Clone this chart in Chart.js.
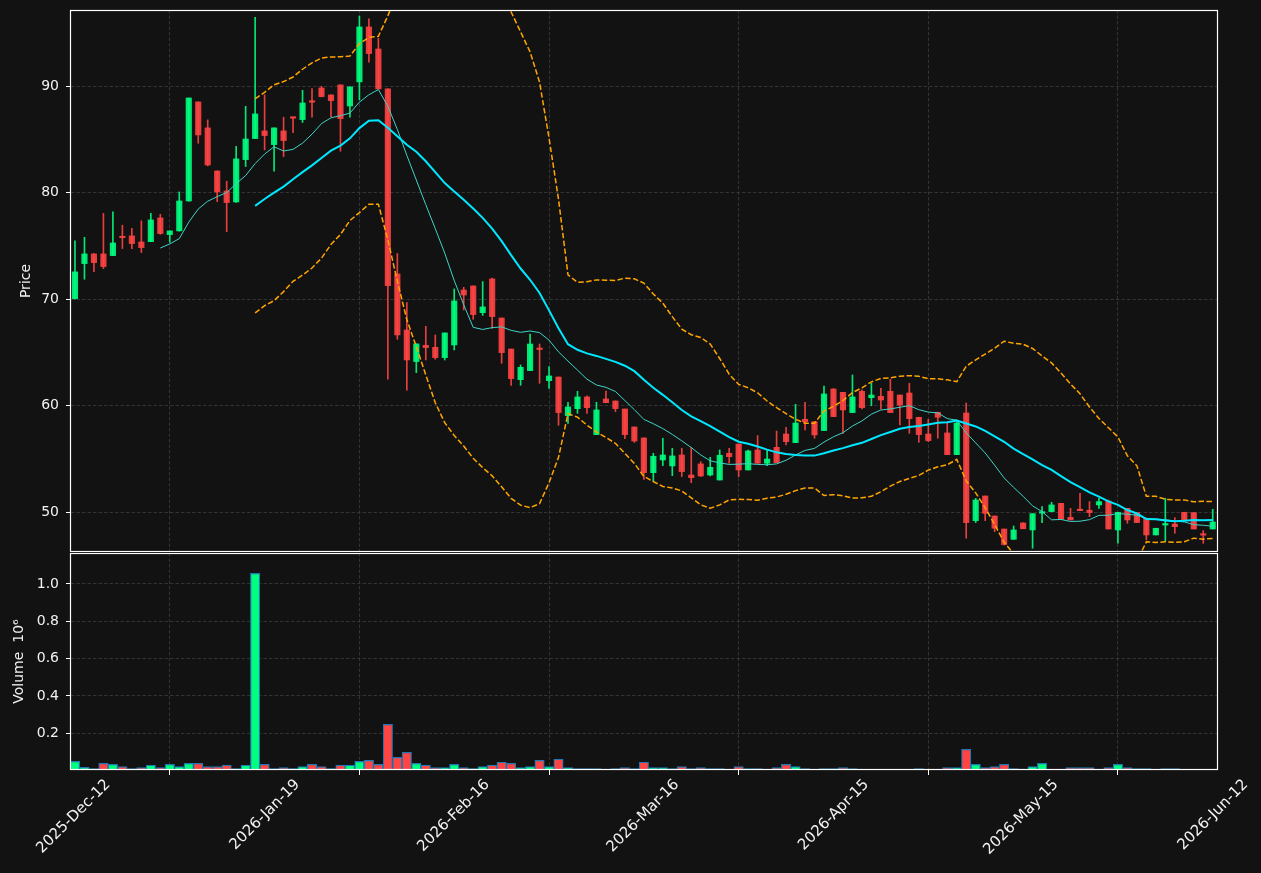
<!DOCTYPE html>
<html>
<head>
<meta charset="utf-8">
<script src="https://cdn.jsdelivr.net/npm/chart.js@4.4.1/dist/chart.umd.min.js"></script>
<style>
  html, body { margin: 0; padding: 0; background: #121212; }
  #wrap { position: relative; width: 1261px; height: 873px; }
  #price { position: absolute; left: 0; top: 0; }
  #volume { position: absolute; left: 0; top: 553px; }
</style>
</head>
<body>
<div id="wrap">
  <canvas id="price" width="1261" height="553"></canvas>
  <canvas id="volume" width="1261" height="320"></canvas>
</div>
<script>
// x positions are trading-day indexes, labelled every 20 sessions
const tickIdx = [0, 20, 40, 60, 80, 100, 120];
const tickLabels = ['2025-Dec-12', '2026-Jan-19', '2026-Feb-16', '2026-Mar-16', '2026-Apr-15', '2026-May-15', '2026-Jun-12'];

const opens = [
  70.06, 73.35, 74.26, 74.26, 74.10, 75.82, 75.95, 75.38, 75.41, 77.64,
  76.07, 76.42, 79.23, 88.53, 86.09, 82.05, 80.17, 79.14, 83.11, 85.09,
  85.81, 84.52, 85.81, 87.09, 86.87, 88.53, 89.84, 89.19, 90.13, 88.15,
  90.41, 95.57, 93.50, 89.75, 72.38, 67.12, 64.15, 65.68, 65.49, 64.52,
  65.71, 70.87, 71.25, 68.74, 71.91, 68.24, 65.33, 62.45, 63.30, 65.33,
  62.36, 62.70, 59.07, 59.73, 60.83, 57.29, 60.64, 60.45, 59.70, 58.01,
  56.98, 53.72, 54.91, 54.35, 55.38, 53.50, 54.54, 53.50, 53.03, 55.54,
  56.41, 53.97, 55.85, 54.60, 56.10, 57.35, 56.54, 58.73, 58.51, 57.67,
  61.58, 61.26, 59.36, 61.36, 60.76, 60.89, 61.36, 61.01, 61.20, 58.92,
  57.35, 59.39, 57.45, 55.41, 59.32, 49.21, 51.53, 49.65, 48.43, 47.46,
  49.00, 48.34, 49.92, 50.06, 50.84, 49.53, 50.20, 50.19, 50.69, 51.06,
  48.34, 50.37, 49.97, 49.43, 47.87, 48.80, 48.90, 50.00, 49.97, 47.90,
  48.43
];
const highs = [
  75.48, 75.82, 74.30, 78.07, 78.20, 76.95, 76.67, 77.36, 78.07, 77.98,
  76.42, 80.08, 88.90, 88.53, 86.84, 82.05, 81.08, 84.37, 88.12, 96.48,
  89.19, 86.09, 87.09, 87.10, 89.62, 89.78, 90.00, 89.20, 90.13, 89.94,
  96.60, 96.32, 94.51, 89.75, 74.29, 69.69, 65.81, 67.46, 66.65, 66.84,
  70.97, 71.12, 71.25, 71.66, 72.00, 68.24, 65.33, 63.83, 66.74, 65.80,
  63.67, 62.70, 60.33, 61.36, 60.93, 60.33, 61.39, 60.45, 59.70, 58.01,
  57.00, 55.54, 56.95, 56.01, 56.01, 56.10, 54.75, 55.16, 55.85, 56.01,
  56.41, 55.85, 57.20, 55.85, 57.63, 57.98, 60.14, 60.33, 58.51, 61.86,
  61.60, 61.26, 62.89, 61.50, 62.11, 61.64, 62.49, 61.01, 62.11, 58.92,
  58.73, 59.39, 58.35, 58.67, 60.26, 51.31, 51.53, 49.65, 48.43, 48.71,
  49.00, 49.87, 50.53, 50.94, 50.84, 50.37, 51.78, 51.00, 51.31, 51.15,
  50.00, 50.37, 49.97, 49.43, 48.50, 51.31, 49.50, 50.00, 49.97, 48.28,
  50.28
];
const lows = [
  70.00, 71.88, 72.60, 72.88, 74.10, 74.76, 74.76, 74.38, 75.40, 76.10,
  75.35, 76.40, 79.20, 84.65, 82.52, 79.17, 76.35, 79.10, 82.46, 85.10,
  84.02, 82.02, 83.40, 85.65, 86.60, 87.09, 89.00, 87.15, 83.90, 87.09,
  88.72, 92.25, 89.75, 62.49, 66.24, 61.46, 63.11, 64.30, 64.37, 64.30,
  65.24, 69.00, 68.12, 68.49, 67.27, 63.99, 61.92, 61.92, 63.30, 62.11,
  61.64, 58.17, 58.35, 59.29, 59.29, 57.29, 60.29, 59.45, 56.91, 56.56,
  53.09, 52.88, 54.38, 53.44, 53.35, 52.78, 53.35, 53.41, 53.03, 54.60,
  53.35, 53.97, 54.60, 54.38, 54.66, 56.32, 56.54, 57.73, 56.95, 57.67,
  58.98, 57.41, 59.36, 59.70, 60.00, 59.67, 59.36, 58.20, 57.41, 56.57,
  56.63, 56.95, 55.41, 55.41, 47.56, 49.03, 49.21, 48.18, 46.90, 47.46,
  48.45, 46.62, 49.03, 50.06, 49.34, 49.28, 50.15, 49.59, 50.37, 48.43,
  47.09, 48.96, 49.03, 47.40, 47.87, 47.30, 48.03, 49.28, 48.43, 47.09,
  48.43
];
const closes = [
  72.57, 74.26, 73.44, 73.07, 75.29, 75.78, 75.23, 74.85, 77.45, 76.17,
  76.42, 79.23, 88.90, 85.43, 82.61, 80.08, 79.08, 83.18, 85.05, 87.40,
  85.37, 86.09, 84.90, 87.00, 88.43, 88.50, 89.03, 88.65, 86.96, 89.94,
  95.57, 93.07, 89.75, 71.28, 66.65, 64.30, 65.81, 65.46, 64.52, 66.84,
  69.84, 70.40, 68.56, 69.28, 68.37, 64.99, 62.55, 63.61, 65.80, 65.28,
  62.80, 59.36, 59.89, 60.83, 59.82, 59.61, 60.29, 59.73, 57.29, 56.69,
  53.72, 55.26, 55.38, 55.29, 53.82, 53.25, 53.41, 54.22, 55.35, 55.22,
  53.97, 55.76, 54.60, 55.00, 54.66, 56.63, 58.38, 58.51, 57.26, 61.11,
  58.98, 59.61, 60.83, 59.82, 61.01, 60.54, 59.36, 60.07, 58.79, 57.29,
  56.73, 58.92, 55.41, 58.38, 49.03, 51.15, 49.90, 48.50, 46.97, 48.34,
  48.45, 49.87, 50.02, 50.69, 49.34, 49.28, 50.15, 49.97, 51.00, 48.43,
  50.00, 49.28, 49.03, 47.87, 48.50, 48.90, 48.65, 49.28, 48.43, 47.85,
  49.09
];
// volume in millions of shares
const volumes = [
  0.050, 0.018, 0.011, 0.039, 0.034, 0.021, 0.011, 0.016, 0.029, 0.016,
  0.034, 0.021, 0.039, 0.039, 0.021, 0.021, 0.029, 0.011, 0.029, 1.057,
  0.034, 0.011, 0.016, 0.011, 0.021, 0.034, 0.021, 0.011, 0.029, 0.029,
  0.050, 0.055, 0.034, 0.248, 0.071, 0.098, 0.039, 0.029, 0.016, 0.016,
  0.034, 0.016, 0.011, 0.021, 0.029, 0.045, 0.039, 0.016, 0.021, 0.055,
  0.021, 0.061, 0.016, 0.011, 0.011, 0.011, 0.005, 0.011, 0.016, 0.011,
  0.045, 0.016, 0.016, 0.011, 0.021, 0.011, 0.016, 0.011, 0.011, 0.004,
  0.021, 0.011, 0.011, 0.004, 0.016, 0.034, 0.021, 0.011, 0.004, 0.011,
  0.011, 0.016, 0.011, 0.004, 0.004, 0.004, 0.004, 0.004, 0.004, 0.011,
  0.004, 0.004, 0.016, 0.016, 0.114, 0.034, 0.016, 0.021, 0.034, 0.011,
  0.004, 0.021, 0.039, 0.004, 0.004, 0.016, 0.016, 0.016, 0.004, 0.016,
  0.034, 0.016, 0.011, 0.011, 0.004, 0.011, 0.011, 0.004, 0.004, 0.004,
  0.004
];

const UP = '#00ff7f', DOWN = '#ff4444';
const UP_C = 'rgba(0,255,127,0.9)', DOWN_C = 'rgba(255,68,68,0.9)';
const GRID = '#3c3c3c';
const TXT = '#f2f2f2';
const X_MIN = -0.42, X_MAX = 120.45;

Chart.defaults.font.family = "'DejaVu Sans', sans-serif";
Chart.defaults.font.size = 14;
Chart.defaults.color = TXT;
Chart.defaults.animation = false;

const isUp = closes.map((c, i) => c >= opens[i]);

// moving averages / bollinger bands of the closes
function sma(n) {
  const out = [];
  for (let i = n - 1; i < closes.length; i++) {
    let s = 0;
    for (let k = i - n + 1; k <= i; k++) s += closes[k];
    out.push({x: i, y: s / n});
  }
  return out;
}
function band(n, mult) {
  const out = [];
  for (let i = n - 1; i < closes.length; i++) {
    const w = closes.slice(i - n + 1, i + 1);
    const m = w.reduce((a, b) => a + b, 0) / n;
    const sd = Math.sqrt(w.reduce((a, b) => a + (b - m) * (b - m), 0) / (n - 1));
    out.push({x: i, y: m + mult * sd});
  }
  return out;
}

const frame = {
  id: 'frame',
  afterDraw(chart) {
    const a = chart.chartArea, ctx = chart.ctx;
    ctx.save();
    ctx.strokeStyle = '#ffffff';
    ctx.lineWidth = 1.2;
    ctx.strokeRect(a.left - 0.5, a.top + 0.5, a.right - a.left + 1, a.bottom - a.top - 1);
    ctx.restore();
  }
};

// kill the automatic label padding so the plot box sits where it should
function noPad(s) {
  s.paddingTop = 0; s.paddingBottom = 0; s.paddingLeft = 0; s.paddingRight = 0;
}

function xAxis(showLabels) {
  return {
    type: 'linear', min: X_MIN, max: X_MAX, offset: false,
    afterBuildTicks: ax => { ax.ticks = tickIdx.map(v => ({value: v})); },
    ticks: showLabels ? {
      display: true, autoSkip: false, minRotation: 45, maxRotation: 45,
      labelOffset: 33, padding: 1, color: TXT, font: {size: 15},
      callback: v => tickLabels[tickIdx.indexOf(v)] || ''
    } : {display: false},
    grid: {color: GRID, lineWidth: 0.8, drawTicks: showLabels, tickColor: '#ffffff',
           tickLength: 5, tickWidth: 1, tickBorderDash: []},
    border: {display: false, dash: [3.5, 2]},
    afterFit: s => { s.height = showLabels ? 103 : 0; noPad(s); }
  };
}

new Chart(document.getElementById('price'), {
  type: 'bar',
  data: {
    datasets: [
      {
        label: 'MA20', type: 'line', order: 1,
        data: sma(20), borderColor: '#00e8ff', borderWidth: 2,
        pointRadius: 0, tension: 0
      },
      {
        label: 'MA10', type: 'line', order: 2,
        data: sma(10), borderColor: '#3fd4c8', borderWidth: 1,
        pointRadius: 0, tension: 0
      },
      {
        label: 'BB upper', type: 'line', order: 3,
        data: band(20, 2), borderColor: '#ffa500', borderWidth: 1.5,
        borderDash: [5.5, 2.4], pointRadius: 0, tension: 0
      },
      {
        label: 'BB lower', type: 'line', order: 3,
        data: band(20, -2), borderColor: '#ffa500', borderWidth: 1.5,
        borderDash: [5.5, 2.4], pointRadius: 0, tension: 0
      },
      {
        label: 'body', order: 4, grouped: false,
        data: closes.map((c, i) => ({x: i, y: [opens[i], c]})),
        backgroundColor: isUp.map(u => u ? UP_C : DOWN_C),
        barThickness: 5.5, minBarLength: 1.5, borderWidth: 0
      },
      {
        label: 'wick', order: 5, grouped: false,
        data: closes.map((c, i) => ({x: i, y: [lows[i], highs[i]]})),
        backgroundColor: isUp.map(u => u ? UP_C : DOWN_C),
        barThickness: 1, borderWidth: 0
      }
    ]
  },
  options: {
    responsive: false,
    layout: {padding: {left: 0, right: 44, top: 10, bottom: 1}},
    plugins: {legend: {display: false}, tooltip: {enabled: false}},
    scales: {
      x: xAxis(false),
      y: {
        min: 46.27, max: 97.16,
        ticks: {stepSize: 10, includeBounds: false, padding: 7, color: TXT},
        grid: {color: GRID, lineWidth: 0.8, tickColor: '#ffffff', tickLength: 5, tickWidth: 1, tickBorderDash: []},
        border: {display: false, dash: [3.5, 2]},
        title: {display: true, text: 'Price', color: TXT, padding: {top: 18, bottom: 0}},
        afterFit: s => { s.width = 71; noPad(s); }
      }
    }
  },
  plugins: [frame]
});

new Chart(document.getElementById('volume'), {
  type: 'bar',
  data: {
    datasets: [{
      label: 'Volume',
      data: volumes.map((v, i) => ({x: i, y: v})),
      backgroundColor: isUp.map(u => u ? UP : DOWN),
      borderColor: '#1f77b4', borderWidth: 1.2,
      barThickness: 9.4
    }]
  },
  options: {
    responsive: false,
    layout: {padding: {left: 0, right: 44, top: 0, bottom: 0}},
    plugins: {legend: {display: false}, tooltip: {enabled: false}},
    scales: {
      x: xAxis(true),
      y: {
        min: 0.0033, max: 1.166,
        ticks: {stepSize: 0.2, includeBounds: false, padding: 7, color: TXT,
                callback: v => v.toFixed(1)},
        grid: {color: GRID, lineWidth: 0.8, tickColor: '#ffffff', tickLength: 5, tickWidth: 1, tickBorderDash: []},
        border: {display: false, dash: [3.5, 2]},
        title: {display: true, text: 'Volume  10\u2076', color: TXT, padding: {top: 11, bottom: 0}},
        afterFit: s => { s.width = 71; noPad(s); }
      }
    }
  },
  plugins: [frame]
});
</script>
</body>
</html>
